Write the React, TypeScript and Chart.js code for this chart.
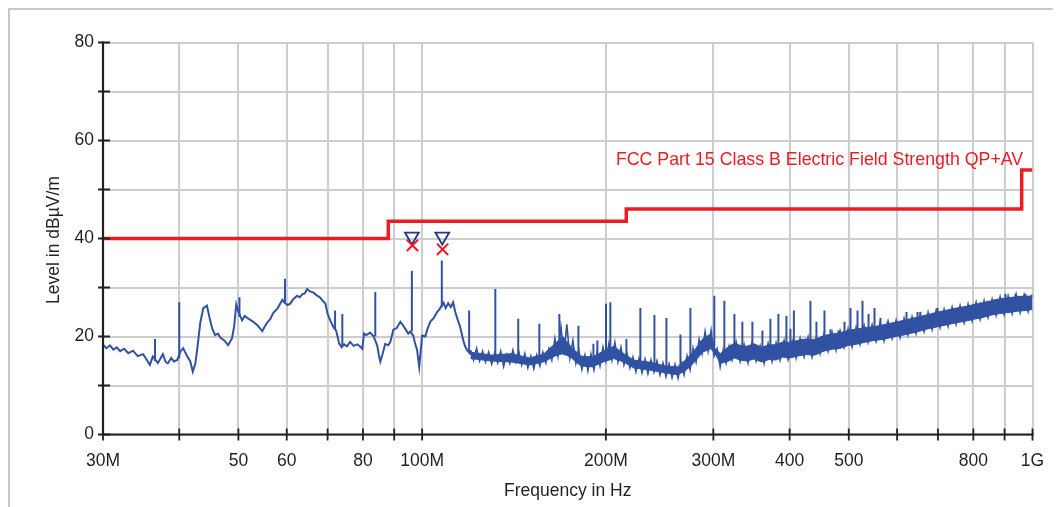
import React, { useEffect, useRef } from 'react';
import { Chart, registerables } from 'chart.js';

Chart.register(...registerables);

// ---------- data ----------
// Measured trace (MHz / dBµV/m), 30–120 MHz
const traceFreq = [
  30.0, 30.4, 30.8, 31.2, 31.6, 32.0, 32.5, 33.0, 33.6, 34.2, 34.9, 35.4, 35.8, 36.2, 36.9, 37.3,
  37.6, 38.0, 38.3, 38.8, 39.2, 39.7, 40.2, 40.6, 41.2, 41.7, 42.1, 42.5, 42.8, 43.3, 43.8, 44.4,
  44.9, 45.3, 45.8, 46.3, 46.7, 47.4, 48.1, 48.8, 49.2, 49.6, 50.0, 50.7, 51.2, 51.7, 52.3, 52.9,
  53.8, 54.7, 55.2, 55.7, 56.4, 57.0, 58.0, 59.0, 59.4, 60.2, 60.8, 61.5, 62.4, 63.0, 63.6, 64.2,
  64.8, 65.5, 66.3, 67.2, 68.1, 68.8, 69.4, 70.0, 70.7, 71.5, 72.3, 73.1, 73.8, 74.5, 75.3, 76.2,
  77.2, 78.3, 79.2, 79.8, 80.3, 81.0, 82.2, 83.2, 84.4, 85.0, 85.4, 86.2, 87.0, 88.0, 88.7, 89.7,
  90.8, 92.1, 93.0, 93.8, 94.9, 95.6, 96.7, 97.4, 98.1, 98.9, 99.4, 100.0, 101.2, 102.0, 103.1, 104.5,
  105.8, 106.8, 108.4, 109.3, 110.3, 111.4, 112.4, 113.3, 114.3, 115.4, 116.8, 117.6, 118.5, 119.8, 120.0,
];
const traceLevel = [
  18.3, 17.6, 18.2, 17.3, 17.8, 17.0, 17.5, 16.6, 17.1, 16.0, 16.4, 15.2, 14.2, 15.9, 14.6, 15.6,
  16.4, 14.8, 14.5, 15.6, 14.9, 15.2, 17.0, 17.6, 16.0, 14.9, 12.8, 14.5, 17.3, 22.8, 25.8, 26.3,
  23.5, 21.6, 20.3, 20.6, 19.8, 19.2, 18.2, 19.6, 22.0, 26.5, 25.0, 23.3, 24.2, 23.8, 23.4, 23.0,
  22.2, 21.1, 22.0, 22.8, 23.6, 24.8, 25.8, 27.5, 27.0, 26.4, 26.7, 27.6, 28.3, 28.0, 28.6, 28.8,
  29.7, 29.2, 29.0, 28.4, 27.9, 27.2, 26.8, 24.6, 23.3, 22.0, 21.2, 18.6, 17.8, 18.4, 18.0, 18.9,
  18.1, 18.4, 17.9, 17.5, 20.6, 20.3, 20.8, 20.1, 18.2, 16.0, 14.9, 16.6, 18.5, 18.2, 18.9, 21.4,
  21.7, 23.0, 22.3, 21.6, 20.6, 21.0, 20.2, 18.5, 17.3, 13.8, 16.8, 20.2, 20.0, 21.5, 23.0, 23.8,
  25.0, 25.6, 26.9, 25.8, 26.8, 26.0, 27.0, 25.0, 23.5, 22.0, 19.2, 18.0, 17.2, 16.5, 17.2,
];

// Noisy part of the trace, 120 MHz – 1 GHz (peak/valley readings)
const noiseFreq = [
  120.0, 121.4, 122.8, 124.2, 125.6, 127.0, 128.5, 130.0, 131.5, 133.0, 134.5, 136.0, 137.6, 139.2, 140.8, 142.4,
  144.0, 145.6, 147.3, 149.0, 150.7, 152.4, 154.1, 155.9, 157.7, 159.5, 161.3, 163.1, 165.0, 166.9, 168.8, 170.7,
  172.6, 174.6, 176.6, 178.6, 180.6, 182.7, 184.8, 186.9, 189.0, 191.2, 193.4, 195.6, 197.8, 200.0, 202.3, 204.6,
  206.9, 209.3, 211.7, 214.1, 216.5, 219.0, 221.5, 224.0, 226.6, 229.2, 231.8, 234.4, 237.1, 239.8, 242.5, 245.3,
  248.1, 250.9, 253.8, 256.7, 259.6, 262.6, 265.6, 268.6, 271.7, 274.8, 277.9, 281.1, 284.3, 287.5, 290.8, 294.1,
  297.5, 300.9, 304.3, 307.8, 311.3, 314.8, 318.4, 322.0,
  326.9, 331.9, 336.9, 342.0, 347.2, 352.5, 357.9, 363.3, 368.8, 374.4, 380.1, 385.9, 391.8, 397.7, 403.8, 409.9,
  416.1, 422.5, 428.9, 435.4, 442.0, 448.7, 455.6, 462.5, 469.5, 476.7, 483.9, 491.3, 498.7, 506.3, 514.0, 521.8,
  529.8, 537.8, 546.0, 554.3, 562.7, 571.3, 579.9, 588.8, 597.7, 606.8, 616.0, 625.4, 634.9, 644.6, 654.4, 664.3,
  674.4, 684.7, 695.1, 705.7, 716.4, 727.3, 738.4, 749.6, 761.0, 772.6, 784.3, 796.3, 808.4, 820.7, 833.2, 845.8,
  858.7, 871.8, 885.0, 898.5, 912.2, 926.1, 940.2, 954.5, 969.0, 983.7, 998.7,
];
const noiseLevel = [
  17.2, 15.2, 17.6, 15.0, 17.0, 14.8, 16.8, 14.4, 16.6, 14.6, 17.0, 13.9, 16.3, 14.5, 17.2, 14.8,
  16.9, 14.2, 16.5, 13.6, 16.0, 13.4, 16.2, 14.0, 16.8, 14.6, 17.5, 15.2, 19.6, 16.0, 22.0, 16.2,
  22.5, 15.6, 19.2, 14.5, 17.2, 13.3, 16.2, 13.0, 16.4, 13.2, 16.8, 14.0, 17.8, 15.0, 18.6, 15.2,
  18.8, 14.8, 17.8, 14.2, 16.6, 13.6, 15.8, 12.8, 15.5, 12.6, 15.4, 12.4, 15.2, 12.7, 15.0, 12.2,
  14.6, 11.8, 14.4, 11.6, 14.3, 11.5, 14.8, 12.2, 16.0, 13.2, 17.6, 14.8, 19.4, 16.5, 21.0, 17.0,
  21.2, 16.0, 17.5, 13.8, 17.2, 14.6, 18.0, 15.2,
  18.9, 14.9, 18.4, 14.6, 18.8, 15.0, 18.1, 14.5, 18.6, 14.9, 18.7, 15.2, 19.2, 15.3, 19.0, 15.6,
  19.6, 15.9, 19.9, 15.8, 19.7, 16.5, 20.6, 17.0, 20.9, 17.2, 21.2, 17.8, 21.6, 17.9, 21.9, 18.4,
  22.3, 18.8, 22.4, 19.0, 22.8, 19.1, 23.1, 19.6, 23.3, 19.8, 23.7, 20.3, 24.0, 20.6, 24.4, 21.0,
  24.9, 21.4, 25.3, 21.8, 25.6, 22.1, 26.0, 22.5, 26.3, 22.8, 26.6, 23.2, 27.0, 23.5, 27.3, 23.9,
  27.6, 24.3, 28.1, 24.5, 28.3, 24.7, 28.6, 24.9, 28.5, 25.1, 28.6,
];

// Dense core of the noise band, 120 MHz – 1 GHz
const bandFreq = [
  120, 130, 140, 150, 158, 165, 170, 175, 182, 190, 198, 206, 214, 222, 235, 250, 262, 270, 278, 288,
  297, 302, 308,
  318, 325, 332, 340, 350, 360, 370, 380, 390, 400, 412, 425, 440, 455, 470, 485, 500, 515, 530, 550,
  570, 590, 610, 630, 650, 675, 700, 725, 750, 775, 800, 825, 850, 875, 900, 925, 950, 975, 1000,
];
const bandLow = [
  15.5, 15.0, 14.8, 14.2, 14.8, 16.0, 16.5, 15.8, 14.0, 13.8, 14.8, 15.5, 14.8, 13.6, 13.2, 12.6, 12.2, 13.0, 14.5, 16.8,
  17.5, 16.5, 14.5,
  15.0, 15.6, 15.2, 15.0, 15.4, 14.8, 15.3, 15.2, 15.8, 15.6, 16.0, 16.3, 16.2, 17.0, 17.4, 17.6, 18.2, 18.4, 18.8, 19.2,
  19.4, 19.9, 20.2, 20.6, 21.0, 21.6, 22.0, 22.4, 22.8, 23.1, 23.5, 23.8, 24.3, 24.6, 24.8, 25.0, 25.2, 25.3, 25.5,
];
const bandHigh = [
  16.8, 16.2, 16.5, 15.6, 16.4, 18.5, 20.0, 18.0, 16.0, 15.8, 17.0, 18.0, 16.5, 15.2, 14.8, 14.0, 13.8, 15.2, 16.8, 19.5,
  20.5, 17.5, 16.5,
  18.0, 18.6, 18.2, 18.0, 18.5, 17.8, 18.3, 18.3, 18.9, 18.8, 19.2, 19.5, 19.4, 20.2, 20.5, 20.8, 21.3, 21.5, 21.8, 22.0,
  22.4, 22.8, 23.2, 23.6, 24.0, 24.5, 25.0, 25.4, 25.8, 26.1, 26.5, 26.8, 27.2, 27.6, 27.8, 28.0, 28.2, 28.2, 28.3,
];

// Narrow-band spikes
const spikeFreq = [
  36.5, 40.0, 50.2, 59.6, 72.0, 74.0, 83.8, 96.2, 107.7, 119.4,
  131.8, 143.7, 155.6, 167.8, 180.3, 190.8, 193.7, 200.1, 203.4, 216.1, 227.8, 240.2, 251.3, 265.0, 275.1,
  301.1, 312.7, 324.8, 334.7, 347.6, 361.0, 372.0, 383.4, 395.2, 401.2, 406.5, 419.8, 432.7, 442.6, 456.2,
  466.7, 481.0, 492.0, 503.3, 516.8, 526.6, 538.7, 551.0, 563.6, 578.7, 621.7, 648.1, 655.0, 698.7, 720.0,
  770.0, 800.7, 822.0, 844.0, 870.0, 903.0, 938.0, 974.0,
];
const spikeBase = [
  15.0, 15.5, 24.0, 27.0, 21.5, 18.0, 20.0, 21.0, 26.0, 17.0,
  15.5, 15.5, 15.0, 19.0, 15.0, 15.0, 15.0, 16.0, 16.0, 15.5, 14.0, 14.0, 13.0, 13.0, 15.0,
  18.0, 16.0, 17.0, 16.5, 16.5, 16.5, 16.5, 17.0, 17.0, 17.5, 17.5, 18.0, 18.0, 18.5, 18.5,
  19.0, 19.0, 19.5, 19.5, 20.0, 20.0, 20.5, 20.5, 21.0, 21.0, 22.0, 22.5, 22.5, 23.0, 23.5,
  24.0, 24.5, 24.5, 25.0, 25.0, 25.5, 25.5, 26.0,
];
const spikePeak = [
  19.5, 27.0, 28.0, 31.8, 25.3, 24.6, 29.1, 33.4, 35.5, 25.3,
  29.7, 23.6, 22.6, 24.6, 22.2, 18.5, 19.2, 26.7, 27.0, 19.5, 25.8, 24.4, 23.8, 20.4, 25.8,
  28.3, 27.3, 24.6, 23.0, 23.0, 21.2, 23.6, 24.6, 24.2, 21.6, 25.3, 19.5, 27.3, 23.0, 25.3,
  21.5, 21.2, 23.0, 25.8, 25.3, 27.3, 24.6, 25.8, 23.8, 23.0, 25.0, 25.0, 25.0, 25.8, 25.0,
  26.0, 26.7, 27.0, 27.3, 27.5, 28.7, 28.7, 28.7,
];

// Limit line FCC Part 15 Class B
const limitFreq = [30, 88, 216, 960, 1000];
const limitLevel = [40, 43.5, 46, 54, 54];
const limitLabel = 'FCC Part 15 Class B Electric Field Strength QP+AV';

// Final measurement markers
const qpFreq = [96.2, 107.9];
const qpLevel = [40.4, 40.4];
const avFreq = [96.4, 108.0];
const avLevel = [38.6, 37.8];

// Axis ticks
const xTickValues = [30, 40, 50, 60, 70, 80, 90, 100, 200, 300, 400, 500, 600, 700, 800, 900, 1000];
const xTickLabels = ['30M', '', '50', '60', '', '80', '', '100M', '200M', '300M', '400', '500', '', '', '800', '', '1G'];
const yTickValues = [0, 10, 20, 30, 40, 50, 60, 70, 80];
const yTickLabels = ['0', '', '20', '', '40', '', '60', '', '80'];

const xTitle = 'Frequency in Hz';
const yTitle = 'Level in dBµV/m';

// ---------- style ----------
const FONT = "'Liberation Sans', Arial, Helvetica, sans-serif";
const BLUE = '#3152a3';
const NAVY = '#1f3b8c';
const RED = '#ec1c24';
const GRID = '#cdcdcd';
const AXIS = '#231f20';

const pts = (xs: number[], ys: number[]) => xs.map((x, i) => ({ x, y: ys[i] }));

export default function App() {
  const ref = useRef<HTMLCanvasElement | null>(null);

  useEffect(() => {
    document.body.style.overflow = 'hidden';
    const canvas = ref.current;
    if (!canvas) return;

    const spikeData: { x: number; y: number | null }[] = [];
    spikeFreq.forEach((f, i) => {
      spikeData.push({ x: f, y: spikeBase[i] });
      spikeData.push({ x: f, y: spikePeak[i] });
      spikeData.push({ x: f, y: null });
    });

    const overlay = {
      id: 'overlay',
      afterDraw(chart: any) {
        const { ctx, chartArea: a, scales } = chart;
        const xs = scales.x;
        const ys = scales.y;
        ctx.save();
        // axes
        ctx.strokeStyle = AXIS;
        ctx.lineWidth = 2.2;
        ctx.beginPath();
        ctx.moveTo(a.left, a.top - 1);
        ctx.lineTo(a.left, a.bottom + 1);
        ctx.moveTo(a.left - 1, a.bottom);
        ctx.lineTo(a.right + 1, a.bottom);
        ctx.stroke();
        // tick marks crossing the axes
        ctx.lineWidth = 1.8;
        ctx.beginPath();
        yTickValues.forEach((v) => {
          const y = ys.getPixelForValue(v);
          ctx.moveTo(a.left - 5, y);
          ctx.lineTo(a.left + 7, y);
        });
        xTickValues.forEach((v) => {
          const x = xs.getPixelForValue(v);
          ctx.moveTo(x, a.bottom - 6);
          ctx.lineTo(x, a.bottom + 6);
        });
        ctx.stroke();
        // limit label
        ctx.fillStyle = RED;
        ctx.font = `17.8px ${FONT}`;
        ctx.textAlign = 'right';
        ctx.textBaseline = 'alphabetic';
        ctx.fillText(limitLabel, xs.getPixelForValue(960) + 1.5, ys.getPixelForValue(54) - 4.5);
        // axis titles
        ctx.fillStyle = AXIS;
        ctx.font = `17.5px ${FONT}`;
        ctx.textAlign = 'center';
        ctx.textBaseline = 'middle';
        ctx.fillText(xTitle, (a.left + a.right) / 2, 481);
        ctx.translate(44, 230);
        ctx.rotate(-Math.PI / 2);
        ctx.fillText(yTitle, 0, 0);
        ctx.restore();
      },
    };

    const chart = new Chart(canvas, {
      type: 'line',
      data: {
        datasets: [
          {
            label: 'AV',
            data: pts(avFreq, avLevel),
            showLine: false,
            pointStyle: 'crossRot',
            pointRadius: 8,
            pointBorderColor: RED,
            pointBackgroundColor: RED,
            pointBorderWidth: 2,
          },
          {
            label: 'QP',
            data: pts(qpFreq, qpLevel),
            showLine: false,
            pointStyle: 'triangle',
            rotation: 180,
            pointRadius: 8,
            pointBorderColor: NAVY,
            pointBackgroundColor: 'rgba(0,0,0,0)',
            pointBorderWidth: 1.8,
          },
          {
            label: 'Limit',
            data: pts(limitFreq, limitLevel),
            stepped: true,
            borderColor: RED,
            borderWidth: 3.5,
            pointRadius: 0,
            fill: false,
          },
          {
            label: 'Trace',
            data: pts(traceFreq, traceLevel),
            borderColor: BLUE,
            borderWidth: 2,
            pointRadius: 0,
            fill: false,
          },
          {
            label: 'Noise',
            data: pts(noiseFreq, noiseLevel),
            borderColor: BLUE,
            borderWidth: 1.6,
            pointRadius: 0,
            fill: false,
          },
          {
            label: 'Spikes',
            data: spikeData as any,
            borderColor: BLUE,
            borderWidth: 2,
            pointRadius: 0,
            spanGaps: false,
            fill: false,
          },
          {
            label: 'BandHigh',
            data: pts(bandFreq, bandHigh),
            borderColor: BLUE,
            borderWidth: 1,
            backgroundColor: BLUE,
            pointRadius: 0,
            fill: '+1',
          },
          {
            label: 'BandLow',
            data: pts(bandFreq, bandLow),
            borderColor: BLUE,
            borderWidth: 1,
            pointRadius: 0,
            fill: false,
          },
        ],
      },
      options: {
        animation: false,
        responsive: false,
        events: [],
        layout: { padding: { left: 0, right: 28.5, top: 32.5, bottom: 0 } },
        plugins: {
          legend: { display: false },
          tooltip: { enabled: false },
        },
        scales: {
          x: {
            type: 'logarithmic',
            min: 30,
            max: 1000,
            afterBuildTicks: (s: any) => {
              s.ticks = xTickValues.map((v) => ({ value: v }));
            },
            afterFit: (s: any) => {
              s.height = 72.5;
            },
            grid: { color: GRID, lineWidth: 2, drawTicks: false },
            border: { display: false },
            ticks: {
              autoSkip: false,
              maxRotation: 0,
              minRotation: 0,
              padding: 16,
              color: AXIS,
              font: { family: FONT, size: 17.5 },
              callback: (_v: any, i: number) => xTickLabels[i],
            },
          },
          y: {
            type: 'linear',
            min: 0,
            max: 80,
            afterBuildTicks: (s: any) => {
              s.ticks = yTickValues.map((v) => ({ value: v }));
            },
            afterFit: (s: any) => {
              s.width = 93;
            },
            grid: { color: GRID, lineWidth: 2, drawTicks: false },
            border: { display: false },
            ticks: {
              padding: 9,
              color: AXIS,
              font: { family: FONT, size: 17.5 },
              callback: (_v: any, i: number) => yTickLabels[i],
            },
          },
        },
      },
      plugins: [overlay],
    } as any);

    return () => chart.destroy();
  }, []);

  return (
    <div
      style={{
        width: 1051,
        height: 497,
        borderLeft: '2px solid #c8c8c8',
        borderTop: '2px solid #c8c8c8',
        background: '#fff',
        position: 'relative',
      }}
    >
      <canvas ref={ref} width={1051} height={497} style={{ display: 'block' }} />
    </div>
  );
}
